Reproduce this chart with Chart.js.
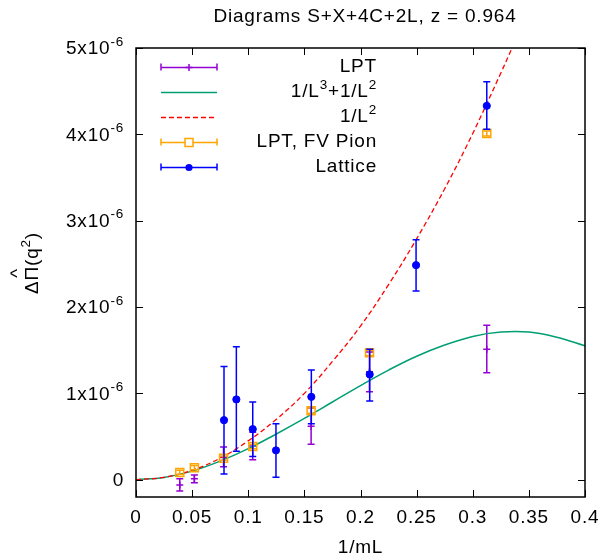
<!DOCTYPE html>
<html>
<head>
<meta charset="utf-8">
<script src="https://cdn.jsdelivr.net/npm/chart.js@4/dist/chart.umd.min.js"></script>
<style>
  body { margin: 0; background: #fff; }
</style>
</head>
<body>
<canvas id="chart" width="603" height="557"></canvas>
<script>
// all y values are in units of 1e-6

// LPT
const lptX  = [0.039, 0.052, 0.078, 0.104, 0.156, 0.208, 0.3125];
const lptY  = [-0.06, 0.01, 0.26, 0.39, 0.62, 1.25, 1.51];
const lptLo = [-0.13, -0.035, 0.15, 0.23, 0.41, 1.02, 1.24];
const lptHi = [0.01, 0.055, 0.38, 0.55, 0.83, 1.48, 1.79];

// 1/L^3 + 1/L^2 fit curve
const fitX = [0, 0.025, 0.05, 0.075, 0.1, 0.125, 0.15, 0.175, 0.2, 0.225, 0.25, 0.275, 0.3, 0.325, 0.35, 0.375, 0.4];
const fitY = [0, 0.027, 0.10, 0.215, 0.36, 0.53, 0.71, 0.90, 1.09, 1.27, 1.43, 1.56, 1.66, 1.71, 1.71, 1.65, 1.55];

// 1/L^2 curve
const quadX = [0, 0.025, 0.05, 0.075, 0.1, 0.125, 0.15, 0.175, 0.2, 0.225, 0.25, 0.275, 0.3, 0.325, 0.335];
const quadY = [0, 0.028, 0.11, 0.25, 0.45, 0.70, 1.0, 1.37, 1.78, 2.26, 2.79, 3.37, 4.01, 4.71, 5.0];

// LPT, FV Pion
const fvX  = [0.039, 0.052, 0.078, 0.104, 0.156, 0.208, 0.3125];
const fvY  = [0.085, 0.14, 0.25, 0.386, 0.80, 1.47, 4.01];
const fvLo = [0.06, 0.115, 0.225, 0.36, 0.77, 1.44, 3.98];
const fvHi = [0.11, 0.165, 0.275, 0.41, 0.83, 1.50, 4.04];

// Lattice
const latX  = [0.0784, 0.0894, 0.104, 0.1247, 0.1562, 0.2082, 0.2495, 0.3125];
const latY  = [0.69, 0.93, 0.586, 0.34, 0.96, 1.22, 2.485, 4.33];
const latLo = [0.066, 0.33, 0.27, 0.03, 0.647, 0.913, 2.185, 4.06];
const latHi = [1.31, 1.54, 0.90, 0.647, 1.27, 1.51, 2.78, 4.61];

const xTicks = [0, 0.05, 0.1, 0.15, 0.2, 0.25, 0.3, 0.35, 0.4];
const xTickLabels = ["0", "0.05", "0.1", "0.15", "0.2", "0.25", "0.3", "0.35", "0.4"];
const yTicks = [0, 1, 2, 3, 4, 5];
const yTickLabels = ["0", "1x10^-6", "2x10^-6", "3x10^-6", "4x10^-6", "5x10^-6"];

const titleText = "Diagrams S+X+4C+2L, z = 0.964";
const xTitle = "1/mL";

const FONT = '"Liberation Sans", Arial, sans-serif';
const BASE = 19, SUP = 13.5;

const pts = (xs, ys) => xs.map((x, i) => ({ x: x, y: ys[i] }));

// draw text with ^ superscripts, e.g. "5x10^-6"
function richText(ctx, str, x, y, align) {
  const bits = str.split(/\^(-?\d)/);
  ctx.textBaseline = 'middle';
  ctx.textAlign = 'left';
  ctx.letterSpacing = '0.8px';
  let total = 0;
  const w = bits.map((b, i) => {
    ctx.font = (i % 2 ? SUP : BASE) + 'px ' + FONT;
    const m = ctx.measureText(b).width;
    total += m;
    return m;
  });
  let cx = align === 'right' ? x - total : align === 'center' ? x - total / 2 : x;
  bits.forEach((b, i) => {
    ctx.font = (i % 2 ? SUP : BASE) + 'px ' + FONT;
    ctx.fillText(b, cx, i % 2 ? y - 7 : y);
    cx += w[i];
  });
  return total;
}

function marker(ctx, style, x, y, color) {
  ctx.save();
  ctx.strokeStyle = color;
  ctx.fillStyle = color;
  ctx.lineWidth = 1.5;
  ctx.beginPath();
  if (style === 'cross') {
    ctx.moveTo(x - 3.5, y); ctx.lineTo(x + 3.5, y);
    ctx.moveTo(x, y - 3.5); ctx.lineTo(x, y + 3.5);
    ctx.stroke();
  } else if (style === 'rect') {
    ctx.strokeRect(x - 4, y - 4, 8, 8);
  } else if (style === 'circle') {
    ctx.arc(x, y, 3.6, 0, Math.PI * 2);
    ctx.fill();
  }
  ctx.restore();
}

const errorBars = {
  id: 'errorBars',
  beforeDatasetDraw(chart, args) {
    const ds = chart.data.datasets[args.index];
    if (!ds.errLo) return;
    const ctx = chart.ctx, xs = chart.scales.x, ys = chart.scales.y, a = chart.chartArea;
    ctx.save();
    ctx.beginPath();
    ctx.rect(a.left, a.top, a.right - a.left, a.bottom - a.top);
    ctx.clip();
    ctx.strokeStyle = ds.borderColor;
    ctx.lineWidth = 1.5;
    ds.data.forEach((p, i) => {
      const px = xs.getPixelForValue(p.x);
      const lo = ys.getPixelForValue(ds.errLo[i]);
      const hi = ys.getPixelForValue(ds.errHi[i]);
      ctx.beginPath();
      ctx.moveTo(px, lo); ctx.lineTo(px, hi);
      ctx.moveTo(px - 3.5, lo); ctx.lineTo(px + 3.5, lo);
      ctx.moveTo(px - 3.5, hi); ctx.lineTo(px + 3.5, hi);
      ctx.stroke();
    });
    ctx.restore();
  }
};

const frame = {
  id: 'frame',
  afterDraw(chart) {
    const ctx = chart.ctx, xs = chart.scales.x, ys = chart.scales.y, a = chart.chartArea;
    ctx.save();
    ctx.fillStyle = '#000';
    ctx.strokeStyle = '#000';
    ctx.lineWidth = 1.5;
    ctx.strokeRect(a.left, a.top, a.right - a.left, a.bottom - a.top);

    // ticks, mirrored on all four sides
    ctx.lineWidth = 1;
    ctx.beginPath();
    xTicks.forEach(t => {
      const px = Math.round(xs.getPixelForValue(t)) + 0.5;
      ctx.moveTo(px, a.bottom); ctx.lineTo(px, a.bottom - 7);
      ctx.moveTo(px, a.top); ctx.lineTo(px, a.top + 7);
    });
    yTicks.forEach(t => {
      const py = Math.round(ys.getPixelForValue(t)) + 0.5;
      ctx.moveTo(a.left, py); ctx.lineTo(a.left + 7, py);
      ctx.moveTo(a.right, py); ctx.lineTo(a.right - 7, py);
    });
    ctx.stroke();

    xTicks.forEach((t, i) => richText(ctx, xTickLabels[i], xs.getPixelForValue(t), a.bottom + 21, 'center'));
    yTicks.forEach((t, i) => richText(ctx, yTickLabels[i], a.left - 12, ys.getPixelForValue(t) + 1, 'right'));

    // titles
    richText(ctx, titleText, 365, 17, 'center');
    richText(ctx, xTitle, (a.left + a.right) / 2, 548, 'center');

    // y title, rotated, with a hat over Pi
    ctx.save();
    ctx.translate(33, 263);
    ctx.rotate(-Math.PI / 2);
    const full = '\u0394\u03A0(q^2)';
    const totalW = richText(ctx, full, 0, 0, 'center');
    ctx.font = BASE + 'px ' + FONT;
    const wD = ctx.measureText('\u0394').width;
    const wP = ctx.measureText('\u03A0').width;
    ctx.letterSpacing = '0px';
    ctx.textAlign = 'center';
    ctx.fillText('^', -totalW / 2 + wD + wP / 2, -15);
    ctx.restore();

    // key, inside top left, text right aligned
    const rows = chart.data.datasets.slice().sort((p, q) => p.legendRow - q.legendRow);
    rows.forEach((ds, r) => {
      const y = 67 + r * 25;
      ctx.save();
      ctx.strokeStyle = ds.borderColor;
      ctx.lineWidth = ds.errLo ? 1.5 : ds.borderWidth;
      ctx.setLineDash(ds.borderDash || []);
      ctx.beginPath();
      ctx.moveTo(161, y + 0.5); ctx.lineTo(217, y + 0.5);
      if (ds.errLo) {
        ctx.moveTo(161, y - 3.5); ctx.lineTo(161, y + 3.5);
        ctx.moveTo(217, y - 3.5); ctx.lineTo(217, y + 3.5);
      }
      ctx.stroke();
      ctx.restore();
      if (ds.errLo) {
        if (ds.pointStyle === 'rect') {
          ctx.save(); ctx.fillStyle = '#fff'; ctx.fillRect(185, y - 3.5, 8, 8); ctx.restore();
        }
        marker(ctx, ds.pointStyle, 189, y + 0.5, ds.borderColor);
      }
      ctx.fillStyle = '#000';
      richText(ctx, ds.label, 377, y, 'right');
    });
    ctx.restore();
  }
};

new Chart(document.getElementById('chart'), {
  type: 'scatter',
  data: {
    datasets: [
      {
        label: 'Lattice', legendRow: 4, order: 0,
        data: pts(latX, latY), errLo: latLo, errHi: latHi,
        pointStyle: 'circle', pointRadius: 3.6, borderWidth: 1,
        borderColor: '#0000ff', backgroundColor: '#0000ff', showLine: false
      },
      {
        label: 'LPT, FV Pion', legendRow: 3, order: 1,
        data: pts(fvX, fvY), errLo: fvLo, errHi: fvHi,
        pointStyle: 'rect', pointRadius: 5.66, borderWidth: 1.5,
        borderColor: '#ffa500', backgroundColor: 'rgba(0,0,0,0)', showLine: false
      },
      {
        label: '1/L^2', legendRow: 2, order: 2,
        data: pts(quadX, quadY), showLine: true, pointRadius: 0,
        borderColor: '#ff0000', borderWidth: 1.3, borderDash: [5, 3],
        tension: 0.4, fill: false
      },
      {
        label: '1/L^3+1/L^2', legendRow: 1, order: 3,
        data: pts(fitX, fitY), showLine: true, pointRadius: 0,
        borderColor: '#009e73', borderWidth: 1.5,
        tension: 0.4, fill: false
      },
      {
        label: 'LPT', legendRow: 0, order: 4,
        data: pts(lptX, lptY), errLo: lptLo, errHi: lptHi,
        pointStyle: 'cross', pointRadius: 3.5, borderWidth: 1.5,
        borderColor: '#9400d3', backgroundColor: '#9400d3', showLine: false
      }
    ]
  },
  options: {
    responsive: false,
    devicePixelRatio: 1,
    animation: false,
    layout: { padding: { left: 136, right: 18, top: 48, bottom: 60 } },
    scales: {
      x: { type: 'linear', min: 0, max: 0.4, display: false },
      y: { type: 'linear', min: -0.2, max: 5, display: false }
    },
    plugins: {
      legend: { display: false },
      tooltip: { enabled: false }
    }
  },
  plugins: [errorBars, frame]
});
</script>
</body>
</html>
